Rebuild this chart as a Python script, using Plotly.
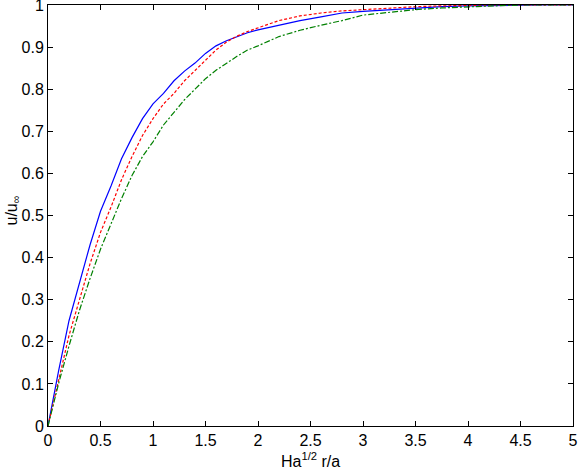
import plotly.graph_objects as go

# profile data
x_blue = [0, 0.1, 0.2, 0.3, 0.4, 0.5, 0.6, 0.7, 0.8, 0.9, 1.0, 1.1, 1.2, 1.3, 1.4, 1.5, 1.6, 1.7,
          1.8, 1.9, 2.0, 2.2, 2.4, 2.6, 2.8, 3.0, 3.25, 3.5, 3.75, 4.0, 4.25, 4.5, 4.75, 5.0]
y_blue = [0, 0.13, 0.25, 0.34, 0.43, 0.51, 0.57, 0.635, 0.685, 0.73, 0.765, 0.79, 0.82, 0.843,
          0.862, 0.885, 0.903, 0.915, 0.925, 0.934, 0.941, 0.952, 0.963, 0.972, 0.981, 0.985,
          0.989, 0.993, 0.996, 0.998, 0.999, 0.9995, 1.0, 1.0]

x_red = [0, 0.1, 0.2, 0.3, 0.4, 0.5, 0.6, 0.7, 0.8, 0.9, 1.0, 1.1, 1.2, 1.3, 1.4, 1.5, 1.6, 1.7,
         1.8, 1.9, 2.0, 2.2, 2.4, 2.6, 2.8, 3.0, 3.25, 3.5, 3.75, 4.0, 4.25, 5.0]
y_red = [0, 0.11, 0.215, 0.3, 0.385, 0.46, 0.52, 0.585, 0.64, 0.69, 0.73, 0.765, 0.79, 0.82,
         0.845, 0.87, 0.893, 0.912, 0.926, 0.937, 0.946, 0.963, 0.974, 0.981, 0.986, 0.989,
         0.993, 0.996, 0.998, 0.999, 1.0, 1.0]

x_green = [0, 0.1, 0.2, 0.3, 0.4, 0.5, 0.6, 0.7, 0.8, 0.9, 1.0, 1.1, 1.2, 1.3, 1.4, 1.5, 1.6, 1.7,
           1.8, 1.9, 2.0, 2.2, 2.4, 2.6, 2.8, 3.0, 3.25, 3.5, 3.75, 4.0, 4.25, 4.5, 5.0]
y_green = [0, 0.1, 0.19, 0.275, 0.35, 0.42, 0.48, 0.54, 0.595, 0.64, 0.675, 0.715, 0.745, 0.775,
           0.8, 0.825, 0.845, 0.862, 0.878, 0.893, 0.903, 0.925, 0.94, 0.952, 0.963, 0.976,
           0.983, 0.989, 0.993, 0.996, 0.998, 1.0, 1.0]

x_ticks = [0, 0.5, 1, 1.5, 2, 2.5, 3, 3.5, 4, 4.5, 5]
x_ticklabels = ["0", "0.5", "1", "1.5", "2", "2.5", "3", "3.5", "4", "4.5", "5"]
y_ticks = [0, 0.1, 0.2, 0.3, 0.4, 0.5, 0.6, 0.7, 0.8, 0.9, 1]
y_ticklabels = ["0", "0.1", "0.2", "0.3", "0.4", "0.5", "0.6", "0.7", "0.8", "0.9", "1"]

FONT = "Liberation Sans, Arial, sans-serif"

fig = go.Figure()
fig.add_trace(go.Scatter(x=x_blue, y=y_blue, mode="lines",
                         line=dict(color="#0000ff", width=1.2)))
fig.add_trace(go.Scatter(x=x_red, y=y_red, mode="lines",
                         line=dict(color="#ff0000", width=1.2, dash="3px,2px")))
fig.add_trace(go.Scatter(x=x_green, y=y_green, mode="lines",
                         line=dict(color="#008000", width=1.2, dash="6px,2px,2px,2px")))

axis = dict(showline=True, linecolor="black", linewidth=1, mirror="ticks",
            ticks="inside", ticklen=5, tickcolor="black", showgrid=False,
            zeroline=False, automargin=False, ticklabeloverflow="allow",
            tickfont=dict(family=FONT, size=16, color="black"))

fig.update_layout(
    width=582, height=474,
    margin=dict(l=48, r=9, t=5, b=48),
    paper_bgcolor="white", plot_bgcolor="white",
    showlegend=False,
    font=dict(family=FONT, color="black"),
)
fig.update_xaxes(**axis, range=[0, 5], tickvals=x_ticks, ticktext=x_ticklabels)
fig.update_yaxes(**axis, range=[0, 1], tickvals=y_ticks, ticktext=y_ticklabels)

# axis titles
fig.add_annotation(text="Ha<sup>1/2</sup> r/a", xref="paper", yref="paper",
                   x=0.5, y=0, xanchor="center", yanchor="middle", yshift=-34,
                   showarrow=False, font=dict(family=FONT, size=16, color="black"))
fig.add_annotation(text="u/u<sub>∞</sub>", xref="paper", yref="paper",
                   x=0, y=0.5, xanchor="center", yanchor="middle", xshift=-36, yshift=5,
                   textangle=-90, showarrow=False,
                   font=dict(family=FONT, size=16, color="black"))

# page body has a default margin; drop it so the figure sits at the window origin
fig.write_html("out.html", config={"displayModeBar": False},
               post_script="document.body.style.margin='0px';")
